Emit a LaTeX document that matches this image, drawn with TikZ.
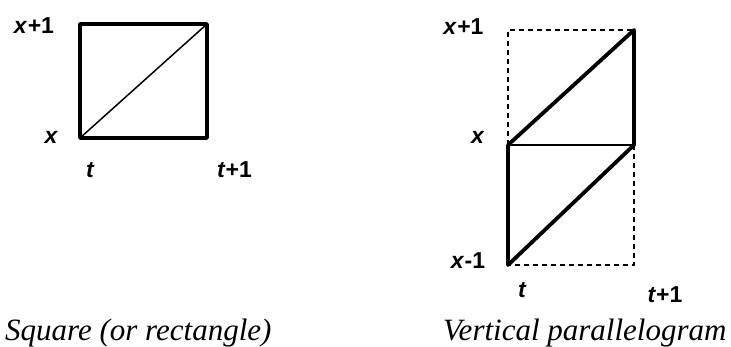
\documentclass[tikz,border=0pt]{standalone}
\usepackage{fontspec}
\setmainfont{Liberation Serif}
\setsansfont{Liberation Sans}
\begin{document}
\begin{tikzpicture}[x=1pt,y=-1pt,
  thickline/.style={line width=3.8pt,line cap=round,line join=round},
  thinline/.style={line width=1.5pt},
  dashline/.style={line width=1.4pt,dash pattern=on 5pt off 4pt},
  lbl/.style={font=\fontsize{23}{25}\selectfont\sffamily\bfseries,inner sep=0pt},
  captext/.style={font=\fontsize{31}{34}\selectfont\itshape,inner sep=0pt,anchor=base west}]
\useasboundingbox (0,0) rectangle (731,347);
% left square
\coordinate (A) at (80,138);
\coordinate (B) at (207,138);
\coordinate (C) at (207,24);
\coordinate (D) at (80,24);
\draw[thickline] (A) -- (B) -- (C) -- (D) -- cycle;
\draw[thinline] (A) -- (C);
\node[lbl] (l1) at (34,25.5) {\itshape x\upshape\kern1pt+1};
\node[lbl] (l2) at (51,137.5) {\itshape x};
\node[lbl] (l3) at (90,170) {\itshape t};
\node[lbl] (l4) at (234.5,170) {\itshape t\upshape\kern1pt+1};
% right parallelogram
\coordinate (P1) at (508,30);
\coordinate (P2) at (634,30);
\coordinate (P3) at (508,145);
\coordinate (P4) at (634,145);
\coordinate (P5) at (508,265);
\coordinate (P6) at (634,265);
\draw[dashline] (P3) -- (P1) -- (P2);
\draw[dashline] (P4) -- (P6) -- (P5);
\draw[thinline] (P3) -- (P4);
\draw[thickline] (P3) -- (P2) -- (P4) -- (P5) -- (P3);
\node[lbl] (r1) at (463.5,27) {\itshape x\upshape\kern1pt+1};
\node[lbl] (r2) at (477.5,137.5) {\itshape x};
\node[lbl] (r3) at (468,261) {\itshape x\upshape\kern1pt-1};
\node[lbl] (r4) at (522,290) {\itshape t};
\node[lbl] (r5) at (665,295) {\itshape t\upshape\kern1pt+1};
% captions
\node[captext] (c1) at (5,341) {Square (or rectangle)};
\node[captext] (c2) at (443,341) {Vertical parallelogram};
\end{tikzpicture}
\end{document}
